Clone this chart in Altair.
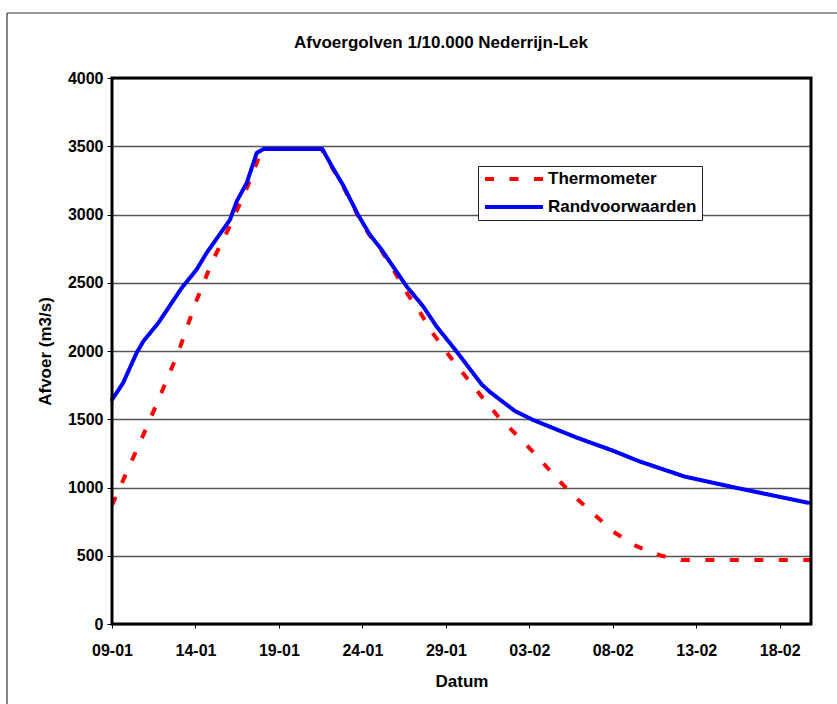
import altair as alt
import pandas as pd

TITLE = "Afvoergolven 1/10.000 Nederrijn-Lek"
SERIES = ["Thermometer", "Randvoorwaarden"]
X_TITLE = "Datum"
Y_TITLE = "Afvoer (m3/s)"

# days after 09-01
thermo_days = [0, 1, 2, 3, 4, 5, 6, 7, 8, 9, 12.55, 13.2, 13.8, 14.7, 15.4, 16.1,
               16.84, 17.64, 18.48, 19.28, 20.2, 21.14, 22.14, 23.14, 24.3, 25.4,
               26.46, 27.56, 28.6, 30.0, 31.45, 32.9, 34.2, 41.85]
thermo_vals = [870, 1145, 1420, 1705, 2000, 2350, 2655, 2900, 3170, 3480, 3480, 3341,
               3218, 3000, 2853, 2744, 2597, 2430, 2278, 2120, 1966, 1820, 1667, 1519,
               1378, 1239, 1092, 950, 835, 678, 568, 500, 468, 468]

rand_days = [0, 0.66, 1.47, 1.87, 2.77, 4.17, 5.07, 5.67, 7.07, 7.47, 8.07, 8.67, 9.07,
             12.6, 13.23, 13.83, 14.73, 15.44, 16.14, 17.64, 18.64, 19.44, 20.64,
             22.14, 22.64, 24.14, 25.24, 27.85, 30.04, 31.65, 34.3, 37.3, 41.7]
rand_vals = [1643, 1765, 1985, 2070, 2205, 2461, 2597, 2719, 2962, 3096, 3231, 3451, 3480,
             3480, 3341, 3218, 3000, 2853, 2744, 2475, 2327, 2180, 1997,
             1756, 1700, 1560, 1494, 1365, 1268, 1189, 1080, 1000, 888]

base = pd.Timestamp("2005-01-09")


def to_iso(days):
    return [(base + pd.to_timedelta(d, unit="D")).strftime("%Y-%m-%dT%H:%M:%S") for d in days]


df = pd.concat([
    pd.DataFrame({"date": to_iso(thermo_days), "afvoer": thermo_vals, "serie": SERIES[0]}),
    pd.DataFrame({"date": to_iso(rand_days), "afvoer": rand_vals, "serie": SERIES[1]}),
], ignore_index=True)

tick_dates = [(1, 9), (1, 14), (1, 19), (1, 24), (1, 29), (2, 3), (2, 8), (2, 13), (2, 18)]
FONT = "Liberation Sans"

color_scale = alt.Scale(domain=SERIES, range=["#FF0000", "#0000FF"])
dash_scale = alt.Scale(domain=SERIES, range=[[9, 15.5], [1, 0]])

x_enc = alt.X(
    "date:T",
    scale=alt.Scale(domain=[alt.DateTime(year=2005, month=1, date=9),
                            alt.DateTime(year=2005, month=2, date=19, hours=21)]),
    axis=alt.Axis(
        values=[alt.DateTime(year=2005, month=m, date=d) for m, d in tick_dates],
        format="%d-%m", title=X_TITLE, grid=False, domain=False,
        tickSize=4, tickColor="black", labelPadding=14,
        labelFontSize=16, labelFont=FONT, labelFontWeight="bold", labelColor="black",
        labelFlush=False,
        titleFont=FONT, titleFontSize=17, titleFontWeight="bold", titleColor="black",
        titleX=349.5, titleY=57, titleBaseline="middle", titleAlign="center",
    ),
)
y_enc = alt.Y(
    "afvoer:Q",
    scale=alt.Scale(domain=[0, 4000]),
    axis=alt.Axis(
        values=list(range(0, 4001, 500)), format="d", title=Y_TITLE, grid=True,
        gridColor="#555555", gridWidth=1.3, domain=False,
        tickSize=5, tickColor="black", labelPadding=4,
        labelFontSize=16, labelFont=FONT, labelFontWeight="bold", labelColor="black",
        titleFont=FONT, titleFontSize=17, titleFontWeight="bold", titleColor="black",
        titleX=-67, titleY=273, titleBaseline="middle", titleAlign="center", titleAngle=270,
    ),
)

legend = alt.Legend(
    title=None, orient="none", legendX=366, legendY=88,
    strokeColor="#222222", fillColor="white", padding=5,
    symbolType="stroke", symbolSize=3364, symbolStrokeWidth=4, symbolOffset=0,
    clipHeight=16, rowPadding=11, labelOffset=3,
    labelFont=FONT, labelFontSize=17, labelFontWeight="bold", labelColor="black",
    labelLimit=300,
)

base_chart = alt.Chart(df).encode(
    x=x_enc, y=y_enc,
    color=alt.Color("serie:N", scale=color_scale, legend=legend),
    strokeDash=alt.StrokeDash("serie:N", scale=dash_scale, legend=legend),
)

red = base_chart.transform_filter(alt.datum.serie == SERIES[0]).mark_line(
    strokeWidth=4, strokeCap="butt", strokeJoin="round", clip=True)
blue = base_chart.transform_filter(alt.datum.serie == SERIES[1]).mark_line(
    strokeWidth=4, strokeCap="round", strokeJoin="round")

dummy = pd.DataFrame({"k": [0]})
border_left = alt.Chart(dummy).mark_rule(color="#333333", strokeWidth=1.2).encode(
    x=alt.value(-105), y=alt.value(-65), y2=alt.value(720))
border_top = alt.Chart(dummy).mark_rule(color="#333333", strokeWidth=1.2).encode(
    x=alt.value(-105), x2=alt.value(800), y=alt.value(-65))
frame = alt.Chart(dummy).mark_rect(fillOpacity=0, stroke="black", strokeWidth=3).encode(
    x=alt.value(0), x2=alt.value(699), y=alt.value(0), y2=alt.value(546))

title = alt.Chart(pd.DataFrame({"t": [TITLE]})).mark_text(
    font=FONT, fontSize=17, fontWeight="bold", color="black",
    align="center", baseline="alphabetic").encode(
    text="t:N", x=alt.value(329), y=alt.value(-30))

chart = alt.layer(border_left, border_top, title, red, blue, frame).properties(
    width=699, height=546,
    background="white",
    autosize=alt.AutoSizeParams(type="none"),
    padding={"left": 112, "top": 78, "right": 26, "bottom": 80},
).configure_view(
    stroke=None,
)

chart.save("out.html", embed_options={"renderer": "svg", "actions": False})
